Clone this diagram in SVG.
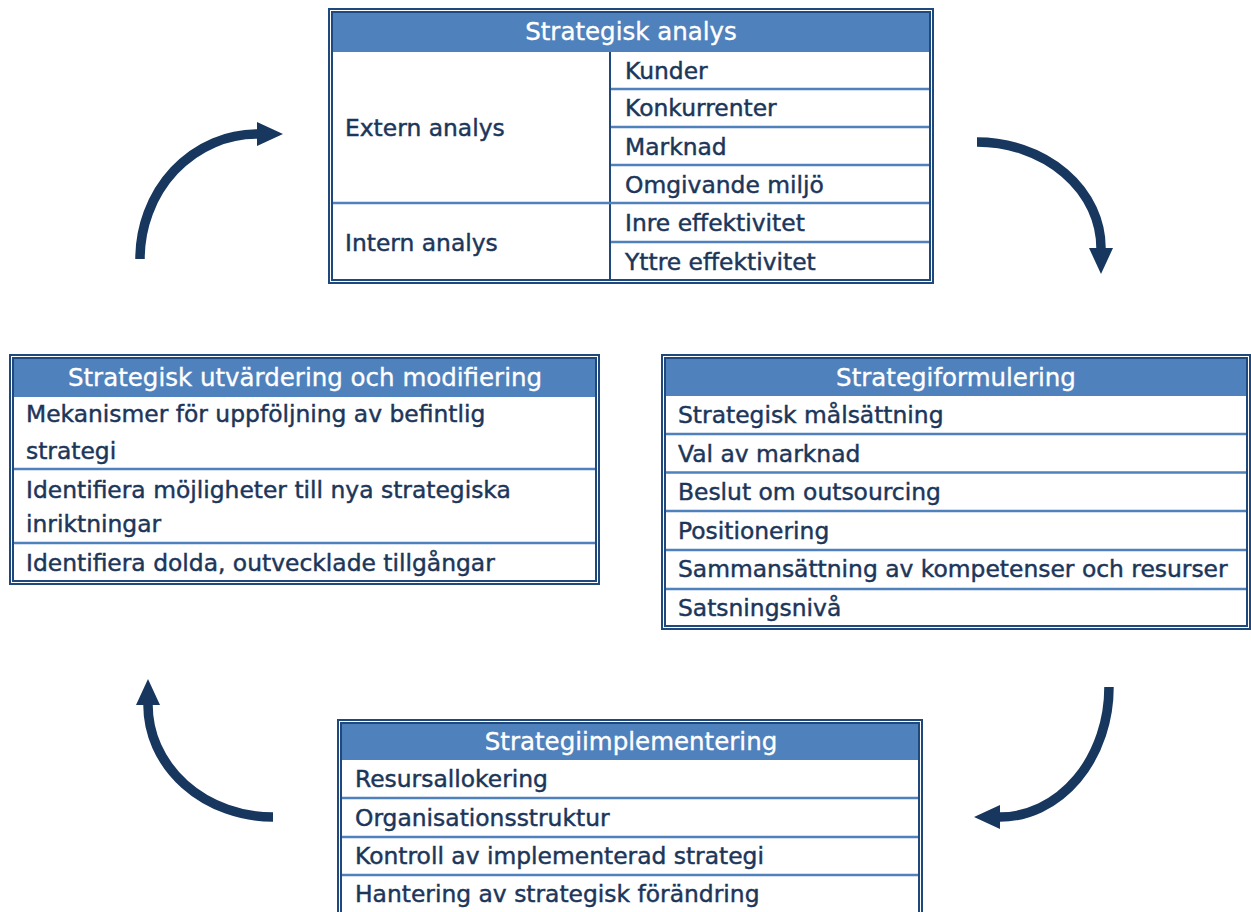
<svg xmlns="http://www.w3.org/2000/svg" width="1251" height="912" viewBox="0 0 1251 912">
  <style>
    .frame { fill: none; stroke: #1F497D; stroke-width: 2; }
    .head { fill: #4F81BD; }
    .rule { stroke: #4F81BD; stroke-width: 2.5; }
    .vrule { stroke: #1F497D; stroke-width: 2; }
    .ht { font-family: "DejaVu Sans", "Liberation Sans", sans-serif; font-size: 24.5px; fill: #FFFFFF; stroke: #FFFFFF; stroke-width: 0.35; text-anchor: middle; }
    .bt { font-family: "DejaVu Sans", "Liberation Sans", sans-serif; font-size: 23.4px; fill: #1C365A; stroke: #1C365A; stroke-width: 0.45; }
    .arc { fill: none; stroke: #17375E; stroke-width: 9.5; }
  </style>
  <defs>
    <marker id="head" markerUnits="userSpaceOnUse" markerWidth="27" markerHeight="25" refX="0" refY="12" orient="auto">
      <path d="M0,0 L26,12 L0,24 z" fill="#17375E"/>
    </marker>
  </defs>
  <rect width="1251" height="912" fill="#FFFFFF"/>

  <!-- Strategisk analys -->
  <g id="strategisk-analys">
    <rect class="head" x="333" y="13" width="596" height="39"/>
    <rect class="frame" x="329" y="9" width="604" height="274"/>
    <rect class="frame" x="332" y="12" width="598" height="268"/>
    <line class="vrule" x1="610" y1="52" x2="610" y2="280"/>
    <line class="rule" x1="611" y1="89" x2="929" y2="89"/>
    <line class="rule" x1="611" y1="127" x2="929" y2="127"/>
    <line class="rule" x1="611" y1="165" x2="929" y2="165"/>
    <line class="rule" x1="333" y1="203" x2="929" y2="203"/>
    <line class="rule" x1="611" y1="242" x2="929" y2="242"/>
    <text class="ht" x="631" y="40">Strategisk analys</text>
    <text class="bt" x="345" y="136">Extern analys</text>
    <text class="bt" x="345" y="251">Intern analys</text>
    <text class="bt" x="625" y="79">Kunder</text>
    <text class="bt" x="625" y="116">Konkurrenter</text>
    <text class="bt" x="625" y="155">Marknad</text>
    <text class="bt" x="625" y="193">Omgivande miljö</text>
    <text class="bt" x="625" y="231">Inre effektivitet</text>
    <text class="bt" x="625" y="270">Yttre effektivitet</text>
  </g>

  <!-- Strategisk utvärdering och modifiering -->
  <g id="strategisk-utvardering">
    <rect class="head" x="14" y="359" width="581" height="38"/>
    <rect class="frame" x="10" y="355" width="589" height="229"/>
    <rect class="frame" x="13" y="358" width="583" height="223"/>
    <line class="rule" x1="14" y1="469" x2="595" y2="469"/>
    <line class="rule" x1="14" y1="543" x2="595" y2="543"/>
    <text class="ht" x="305" y="386">Strategisk utvärdering och modifiering</text>
    <text class="bt" x="26" y="422">Mekanismer för uppföljning av befintlig</text>
    <text class="bt" x="26" y="459">strategi</text>
    <text class="bt" x="26" y="498">Identifiera möjligheter till nya strategiska</text>
    <text class="bt" x="26" y="532">inriktningar</text>
    <text class="bt" x="26" y="571">Identifiera dolda, outvecklade tillgångar</text>
  </g>

  <!-- Strategiformulering -->
  <g id="strategiformulering">
    <rect class="head" x="666" y="359" width="580" height="37"/>
    <rect class="frame" x="662" y="355" width="588" height="274"/>
    <rect class="frame" x="665" y="358" width="582" height="268"/>
    <line class="rule" x1="666" y1="434" x2="1246" y2="434"/>
    <line class="rule" x1="666" y1="472.5" x2="1246" y2="472.5"/>
    <line class="rule" x1="666" y1="511" x2="1246" y2="511"/>
    <line class="rule" x1="666" y1="550" x2="1246" y2="550"/>
    <line class="rule" x1="666" y1="589" x2="1246" y2="589"/>
    <text class="ht" x="956" y="386">Strategiformulering</text>
    <text class="bt" x="678" y="423">Strategisk målsättning</text>
    <text class="bt" x="678" y="462">Val av marknad</text>
    <text class="bt" x="678" y="500">Beslut om outsourcing</text>
    <text class="bt" x="678" y="539">Positionering</text>
    <text class="bt" x="678" y="577">Sammansättning av kompetenser och resurser</text>
    <text class="bt" x="678" y="616">Satsningsnivå</text>
  </g>

  <!-- Strategiimplementering -->
  <g id="strategiimplementering">
    <rect class="head" x="342" y="724" width="576" height="36"/>
    <rect class="frame" x="338" y="720" width="584" height="220"/>
    <rect class="frame" x="341" y="723" width="578" height="214"/>
    <line class="rule" x1="342" y1="798" x2="918" y2="798"/>
    <line class="rule" x1="342" y1="837" x2="918" y2="837"/>
    <line class="rule" x1="342" y1="875" x2="918" y2="875"/>
    <text class="ht" x="631" y="750">Strategiimplementering</text>
    <text class="bt" x="355" y="787">Resursallokering</text>
    <text class="bt" x="355" y="826">Organisationsstruktur</text>
    <text class="bt" x="355" y="864">Kontroll av implementerad strategi</text>
    <text class="bt" x="355" y="902">Hantering av strategisk förändring</text>
  </g>

  <!-- cycle arrows -->
  <g id="connectors">
    <path class="arc" d="M140,259 A117,125 0 0 1 257,134" marker-end="url(#head)"/>
    <path class="arc" d="M977,142 A124,106 0 0 1 1101,248" marker-end="url(#head)"/>
    <path class="arc" d="M1109,687 A109,130 0 0 1 1000,817" marker-end="url(#head)"/>
    <path class="arc" d="M273,817 A125,112 0 0 1 148,705" marker-end="url(#head)"/>
  </g>
</svg>
